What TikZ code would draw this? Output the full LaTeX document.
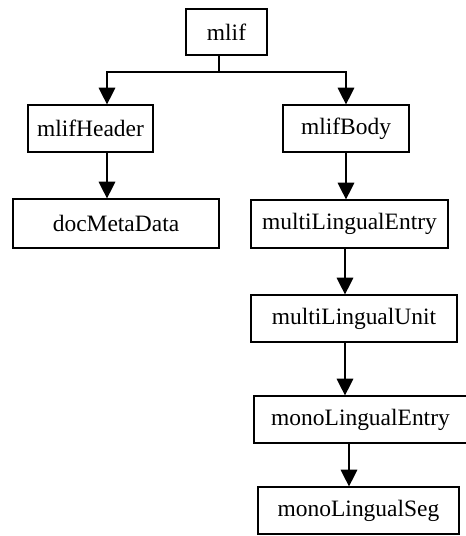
\documentclass[tikz,border=0pt]{standalone}
\usepackage{fontspec}
\setmainfont{Liberation Serif}
\usetikzlibrary{arrows.meta}
\begin{document}
\begin{tikzpicture}[x=0.75pt,y=-0.75pt,
  box/.style={draw, line width=0.9pt, rectangle, inner sep=0pt, font=\fontsize{17.6}{20}\selectfont},
  arr/.style={line width=0.9pt, -{Triangle[width=12.5pt,length=12.5pt]}},
  ln/.style={line width=0.9pt}]
\useasboundingbox (0,0) rectangle (465,536);
\node[box, minimum width=81*0.75pt, minimum height=46*0.75pt] (mlif) at (226.5,32) {mlif};
\node[box, minimum width=125*0.75pt, minimum height=47*0.75pt] (hdr) at (90.5,128.5) {mlifHeader};
\node[box, minimum width=126*0.75pt, minimum height=47*0.75pt] (body) at (346,128.5) {mlifBody};
\node[box, minimum width=206*0.75pt, minimum height=49*0.75pt] (doc) at (116,223.5) {docMetaData};
\node[box, minimum width=197*0.75pt, minimum height=48*0.75pt] (mle) at (349.5,224) {multiLingualEntry};
\node[box, minimum width=206*0.75pt, minimum height=47*0.75pt] (mlu) at (354,318.5) {multiLingualUnit};
\node[box, minimum width=213*0.75pt, minimum height=47*0.75pt] (mone) at (360.5,419.5) {monoLingualEntry};
\node[box, minimum width=201*0.75pt, minimum height=47*0.75pt] (mons) at (358.5,510.5) {monoLingualSeg};
\coordinate (split) at (219,72);
\draw[ln] (219,0 |- mlif.south) -- (split);
\draw[arr] (split) -| (107,0 |- hdr.north);
\draw[arr] (split) -| (346,0 |- body.north);
\draw[arr] (107,0 |- hdr.south) -- (107,0 |- doc.north);
\draw[arr] (346,0 |- body.south) -- (346,0 |- mle.north);
\draw[arr] (345,0 |- mle.south) -- (345,0 |- mlu.north);
\draw[arr] (345,0 |- mlu.south) -- (345,0 |- mone.north);
\draw[arr] (349,0 |- mone.south) -- (349,0 |- mons.north);
\end{tikzpicture}
\end{document}
